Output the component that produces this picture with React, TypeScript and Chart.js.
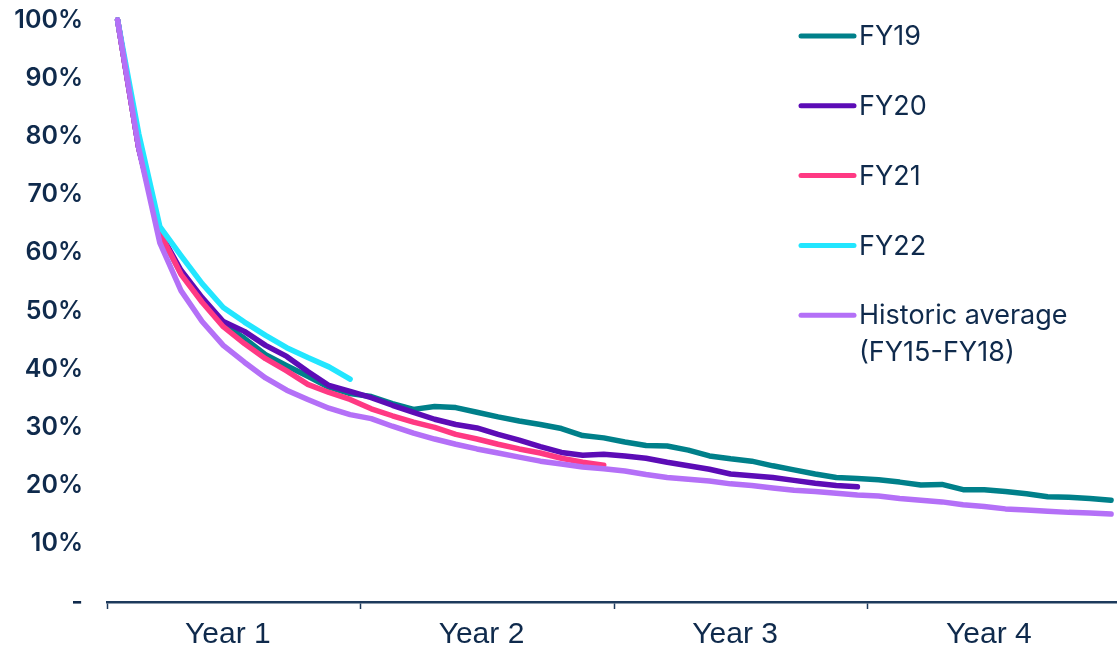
import React, { useEffect, useRef } from 'react';
import { Chart, registerables } from 'chart.js';

Chart.register(...registerables);

const yearLabels = ['Year 1', 'Year 2', 'Year 3', 'Year 4'];
const seriesLabels = ['FY19', 'FY20', 'FY21', 'FY22', 'Historic average (FY15-FY18)'];
const seriesColors = ['#00808a', '#5c0cb6', '#ff3983', '#22e6ff', '#b470f7'];

const fy19 = [100, 78, 63.3, 56.5, 51.8, 47.8, 45.3, 42.5, 40.6, 38.8, 36.9, 35.8,
  35.3, 34.1, 33.1, 33.6, 33.4, 32.6, 31.8, 31.1, 30.5, 29.8, 28.6, 28.2,
  27.5, 26.9, 26.8, 26.1, 25.1, 24.6, 24.2, 23.4, 22.7, 22.0, 21.4, 21.2,
  21.0, 20.6, 20.1, 20.2, 19.3, 19.3, 19.0, 18.6, 18.1, 18.0, 17.8, 17.5];
const fy20 = [100, 78, 63.5, 57.0, 52.3, 48.2, 46.5, 44.1, 42.2, 39.6, 37.2, 36.2,
  35.1, 33.8, 32.6, 31.4, 30.5, 29.9, 28.8, 27.8, 26.7, 25.7, 25.2, 25.4,
  25.1, 24.7, 24.0, 23.4, 22.8, 22.0, 21.7, 21.4, 20.9, 20.4, 20.0, 19.8];
const fy21 = [100, 78, 63.5, 56.3, 51.5, 47.3, 44.4, 41.8, 39.7, 37.4, 36.0, 34.8,
  33.2, 32.0, 30.9, 30.0, 28.8, 28.0, 27.1, 26.3, 25.6, 24.7, 24.0, 23.5];
const fy22 = [100, 80.5, 64.5, 59.5, 54.7, 50.6, 48.1, 45.8, 43.7, 42.0, 40.4, 38.3];
const historic = [100, 78, 61.7, 53.5, 48.2, 44.1, 41.2, 38.5, 36.4, 34.8, 33.3, 32.2,
  31.5, 30.2, 29.0, 28.0, 27.1, 26.3, 25.6, 24.9, 24.2, 23.7, 23.2, 22.9,
  22.5, 21.9, 21.4, 21.1, 20.8, 20.3, 20.0, 19.6, 19.2, 19.0, 18.7, 18.4,
  18.2, 17.8, 17.5, 17.2, 16.7, 16.4, 16.0, 15.8, 15.6, 15.4, 15.3, 15.1];

const seriesValues = [fy19, fy20, fy21, fy22, historic];
const drawOrder = [5, 4, 3, 2, 1];

const TEXT = '#0f2a4c';
const AXIS = '#1d3a5c';

const legendPlugin = {
  id: 'sideLegend',
  afterDraw(chart: any) {
    const ctx = chart.ctx as CanvasRenderingContext2D;
    ctx.save();
    ctx.font = '400 27px Inter, "Open Sans", sans-serif';
    ctx.textBaseline = 'middle';
    ctx.textAlign = 'left';
    chart.data.datasets.forEach((ds: any, k: number) => {
      const y = 36 + k * 69.8;
      ctx.strokeStyle = ds.borderColor;
      ctx.lineWidth = 5;
      ctx.lineCap = 'round';
      ctx.beginPath();
      ctx.moveTo(801, y);
      ctx.lineTo(854, y);
      ctx.stroke();
      ctx.fillStyle = TEXT;
      const words = String(ds.label).split(' ');
      const lines: string[] = [];
      let cur = '';
      words.forEach((w) => {
        const test = cur ? cur + ' ' + w : w;
        if (cur && ctx.measureText(test).width > 250) {
          lines.push(cur);
          cur = w;
        } else {
          cur = test;
        }
      });
      if (cur) lines.push(cur);
      lines.forEach((ln, j) => ctx.fillText(ln, 859, y + 1 + j * 37));
    });
    ctx.restore();
  },
};

export default function App() {
  const ref = useRef<HTMLCanvasElement>(null);
  useEffect(() => {
    if (!ref.current) return;
    const datasets = seriesValues.map((vals, k) => ({
      label: seriesLabels[k],
      data: vals.map((v, i) => ({ x: i + 0.5, y: v })),
      borderColor: seriesColors[k],
      backgroundColor: seriesColors[k],
      borderWidth: 5.5,
      borderCapStyle: 'round' as const,
      borderJoinStyle: 'round' as const,
      pointRadius: 0,
      tension: 0,
      fill: false,
      clip: false as any,
      order: drawOrder[k],
    }));
    const chart = new Chart(ref.current, {
      type: 'line',
      data: { datasets },
      plugins: [legendPlugin],
      options: {
        animation: false,
        responsive: true,
        maintainAspectRatio: false,
        layout: { padding: { top: 20, left: 0, right: 0, bottom: 0 } },
        plugins: { legend: { display: false }, tooltip: { enabled: false } },
        scales: {
          x: {
            type: 'linear',
            min: 0,
            max: 47.78,
            afterBuildTicks: (s: any) => {
              s.ticks = [0, 6, 12, 18, 24, 30, 36, 42].map((v) => ({ value: v }));
            },
            afterFit: (s: any) => { s.height = 47; },
            border: { display: true, color: AXIS, width: 2.5 },
            grid: {
              drawOnChartArea: false,
              drawTicks: true,
              tickLength: 7,
              tickWidth: 1.5,
              tickColor: (c: any) => (c.tick && c.tick.value % 12 === 0 ? AXIS : 'rgba(0,0,0,0)'),
            },
            ticks: {
              autoSkip: false,
              maxRotation: 0,
              padding: 8,
              labelOffset: -6,
              color: TEXT,
              font: { family: '"Liberation Sans", Arial, sans-serif', size: 30 },
              callback: (v: any) => (Number(v) % 12 === 6 ? yearLabels[(Number(v) - 6) / 12] : ''),
            },
          },
          y: {
            min: 0,
            max: 100,
            afterFit: (s: any) => { s.width = 107; },
            border: { display: false },
            grid: {
              display: true,
              drawOnChartArea: false,
              drawTicks: true,
              tickLength: 24,
              tickColor: 'rgba(0,0,0,0)',
            },
            ticks: {
              stepSize: 10,
              padding: 0,
              color: TEXT,
              font: { family: 'Inter, "Open Sans", sans-serif', size: 25, weight: 600 as any },
              callback: (v: any) => (Number(v) === 0 ? '-' : v + '%'),
            },
          },
        },
      },
    });
    return () => chart.destroy();
  }, []);
  return (
    <div style={{ position: 'fixed', left: 0, top: 0, width: 1117, height: 649, background: '#fff' }}>
      <canvas ref={ref} />
    </div>
  );
}
